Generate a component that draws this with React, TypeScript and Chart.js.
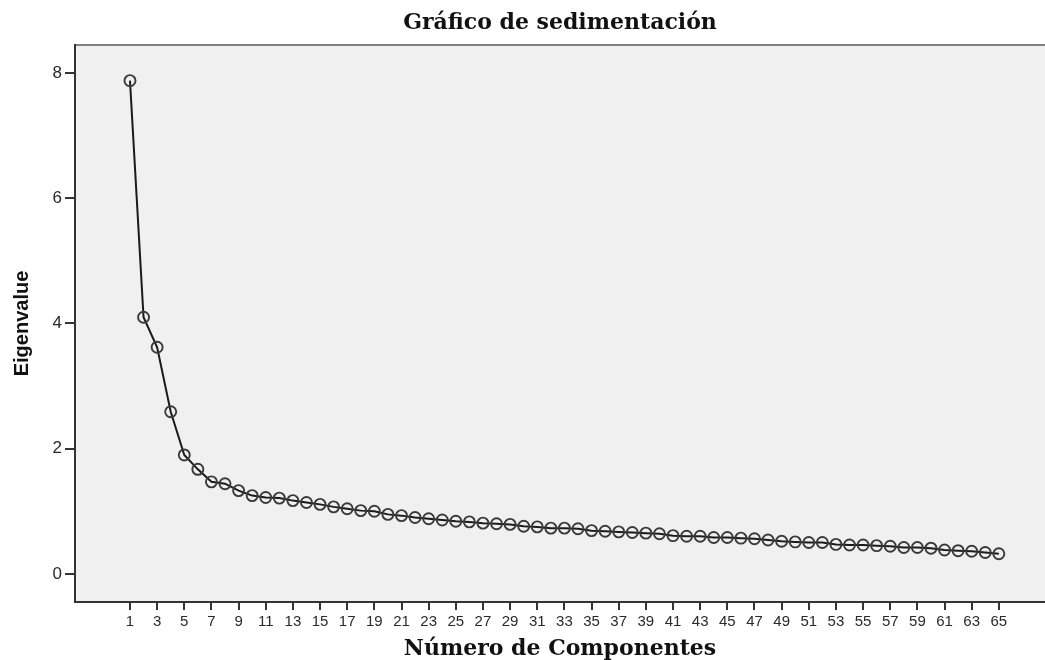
import React, { useEffect, useRef } from "react";
import { Chart, registerables } from "chart.js";

Chart.register(...registerables);

const components = [
  1, 2, 3, 4, 5, 6, 7, 8, 9, 10, 11, 12, 13, 14, 15, 16, 17, 18, 19, 20, 21, 22,
  23, 24, 25, 26, 27, 28, 29, 30, 31, 32, 33, 34, 35, 36, 37, 38, 39, 40, 41, 42,
  43, 44, 45, 46, 47, 48, 49, 50, 51, 52, 53, 54, 55, 56, 57, 58, 59, 60, 61, 62,
  63, 64, 65,
];

const eigenvalues = [
  7.88, 4.1, 3.62, 2.59, 1.9, 1.67, 1.47, 1.44, 1.33, 1.25,
  1.22, 1.21, 1.17, 1.14, 1.11, 1.07, 1.04, 1.01, 1.0, 0.95,
  0.93, 0.9, 0.88, 0.86, 0.84, 0.83, 0.81, 0.8, 0.79, 0.76,
  0.75, 0.73, 0.73, 0.72, 0.69, 0.68, 0.67, 0.66, 0.65, 0.64,
  0.61, 0.6, 0.6, 0.58, 0.58, 0.57, 0.56, 0.54, 0.52, 0.51,
  0.5, 0.5, 0.47, 0.46, 0.46, 0.45, 0.44, 0.42, 0.42, 0.41,
  0.38, 0.37, 0.36, 0.34, 0.32,
];

const xTickValues = [
  1, 3, 5, 7, 9, 11, 13, 15, 17, 19, 21, 23, 25, 27, 29, 31, 33, 35, 37, 39, 41,
  43, 45, 47, 49, 51, 53, 55, 57, 59, 61, 63, 65,
];
const yTickValues = [0, 2, 4, 6, 8];

const chartTitle = "Gráfico de sedimentación";
const xTitle = "Número de Componentes";
const yTitle = "Eigenvalue";

const X_MIN = -3.05;
const X_MAX = 68.4;

const plotBg = {
  id: "plotBg",
  beforeDraw(chart: any) {
    const { ctx, chartArea } = chart;
    if (!chartArea) return;
    ctx.save();
    ctx.fillStyle = "#F0F0F0";
    ctx.fillRect(
      chartArea.left,
      chartArea.top,
      chartArea.right - chartArea.left,
      chartArea.bottom - chartArea.top
    );
    ctx.restore();
  },
};

const zeroPad = (s: any) => {
  s.paddingLeft = 0;
  s.paddingRight = 0;
  s.paddingTop = 0;
  s.paddingBottom = 0;
};

export default function App() {
  const ref = useRef<HTMLCanvasElement | null>(null);

  useEffect(() => {
    if (!ref.current) return;
    const chart = new Chart(ref.current, {
      type: "line",
      data: {
        datasets: [
          {
            data: components.map((c, i) => ({ x: c, y: eigenvalues[i] })),
            borderColor: "#1a1a1a",
            borderWidth: 2,
            pointRadius: 5.5,
            pointBorderColor: "#3a3a3a",
            pointBorderWidth: 1.9,
            pointBackgroundColor: "rgba(0,0,0,0)",
            tension: 0,
            fill: false,
          },
        ],
      },
      plugins: [plotBg],
      options: {
        responsive: false,
        animation: false,
        layout: { padding: 0, autoPadding: false },
        plugins: {
          legend: { display: false },
          tooltip: { enabled: false },
          title: { display: false },
        },
        scales: {
          x: {
            type: "linear",
            position: "bottom",
            min: X_MIN,
            max: X_MAX,
            afterBuildTicks: (s: any) => {
              s.ticks = xTickValues.map((v) => ({ value: v }));
            },
            afterFit: (s: any) => {
              s.height = 58;
              zeroPad(s);
            },
            ticks: {
              autoSkip: false,
              maxRotation: 0,
              minRotation: 0,
              padding: 3,
              color: "#2a2a2a",
              font: { family: "Liberation Sans", size: 15 },
              callback: (v: any) => String(v),
            },
            grid: {
              drawOnChartArea: false,
              drawTicks: true,
              tickLength: 8,
              color: "#333",
              lineWidth: 2,
            },
            border: { display: true, color: "#333", width: 2 },
            title: {
              display: true,
              text: xTitle,
              color: "#111",
              font: { family: "DejaVu Serif", size: 22, weight: "bold", lineHeight: 0.95 },
              padding: { top: 0, bottom: 0 },
            },
          },
          x2: {
            type: "linear",
            position: "top",
            min: X_MIN,
            max: X_MAX,
            afterFit: (s: any) => {
              s.height = 45;
              zeroPad(s);
            },
            ticks: { display: false },
            grid: { display: false },
            border: { display: true, color: "#808080", width: 2 },
            title: {
              display: true,
              text: chartTitle,
              color: "#111",
              font: { family: "DejaVu Serif", size: 22, weight: "bold", lineHeight: 1.2 },
              padding: { top: 10, bottom: 0 },
            },
          },
          y: {
            type: "linear",
            min: -0.45,
            max: 8.45,
            afterBuildTicks: (s: any) => {
              s.ticks = yTickValues.map((v) => ({ value: v }));
            },
            afterFit: (s: any) => {
              s.width = 75;
              zeroPad(s);
            },
            ticks: {
              padding: 3,
              color: "#2a2a2a",
              font: { family: "Liberation Sans", size: 17 },
              callback: (v: any) => String(v),
            },
            grid: {
              drawOnChartArea: false,
              drawTicks: true,
              tickLength: 10,
              color: "#333",
              lineWidth: 2,
            },
            border: { display: true, color: "#333", width: 2 },
            title: {
              display: true,
              text: yTitle,
              color: "#111",
              font: { family: "Liberation Sans", size: 20, weight: "bold", lineHeight: 1.2 },
              padding: { top: 10, bottom: 0 },
            },
          },
        },
      } as any,
    });
    return () => chart.destroy();
  }, []);

  return (
    <div style={{ position: "fixed", left: 0, top: 0, width: 1045, height: 660, background: "#fff" }}>
      <canvas ref={ref} width={1045} height={660} style={{ display: "block" }} />
    </div>
  );
}
